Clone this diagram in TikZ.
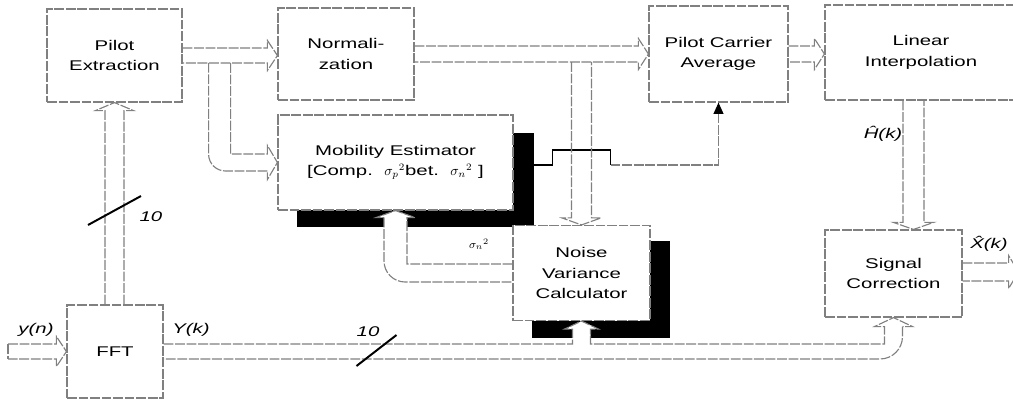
\documentclass[tikz,border=0pt]{standalone}
\usepackage{fontspec}
\setmainfont{Liberation Sans}[FakeStretch=1.45]
\usetikzlibrary{calc,arrows.meta,backgrounds}
\tikzset{
  ln/.style={draw=black!50, line width=0.8pt, dash pattern=on 7pt off 1.2pt},
  blk/.style={rectangle, ln, fill=white, inner sep=0pt, align=center, font=\fontsize{10}{14.6}\selectfont},
  lbl/.style={inner sep=0pt, font=\fontsize{10}{12}\selectfont\itshape},
  slashln/.style={draw=black, line width=1.4pt},
}
% horizontal fat arrow: start, tip, half gap
\newcommand\fatright[3]{\draw[ln] ($#1+(0,-#3)$) -- ($#2+(-10,-#3)$) -- ($#2+(-10,-#3-7.5)$) -- #2 -- ($#2+(-10,#3+7.5)$) -- ($#2+(-10,#3)$) -- ($#1+(0,#3)$);}
% vertical fat arrows: start, tip, half gap
\newcommand\fatdown[3]{\draw[ln] ($#1+(-#3,0)$) -- ($#2+(-#3,-7)$) -- ($#2+(-#3-9.5,-7)$) -- #2 -- ($#2+(#3+9.5,-7)$) -- ($#2+(#3,-7)$) -- ($#1+(#3,0)$);}
\newcommand\fatup[3]{\draw[ln] ($#1+(-#3,0)$) -- ($#2+(-#3,8)$) -- ($#2+(-#3-9.5,8)$) -- #2 -- ($#2+(#3+9.5,8)$) -- ($#2+(#3,8)$) -- ($#1+(#3,0)$);}
\begin{document}
\begin{tikzpicture}[x=0.025cm, y=-0.025cm]
\useasboundingbox (0,0) rectangle (1013,403);
\clip (0,0) rectangle (1013,403);

% blocks
\node[blk, minimum width=3.375cm, minimum height=2.325cm] (pe)  at (114.5,55.5) {Pilot\\Extraction};
\node[blk, minimum width=3.4cm,   minimum height=2.3cm]   (nm)  at (346,54)     {Normali-\\zation};
\node[blk, minimum width=3.475cm, minimum height=2.4cm]   (pca) at (718.5,54)   {Pilot Carrier\\Average};
\node[blk, minimum width=4.8cm,   minimum height=2.375cm] (li)  at (921,52.5)   {Linear\\Interpolation};
\node[blk, minimum width=5.875cm, minimum height=2.375cm] (me)  at (395.5,162.5) {Mobility Estimator\\{}[Comp.\ \ $\sigma_{p}{}^{2}$bet.\ \ $\sigma_{n}{}^{2}$\ ]};
\node[blk, minimum width=3.425cm, minimum height=2.375cm] (nvc) at (581.5,273)  {Noise\\Variance\\Calculator};
\node[blk, minimum width=3.425cm, minimum height=2.175cm] (sc)  at (893.5,273.5) {Signal\\Correction};
\node[blk, minimum width=2.4cm,   minimum height=2.325cm] (fft) at (115,351.5)  {FFT};

% shadows
\begin{scope}[on background layer]
\fill[black] ($(me.north west)+(20,19)$) rectangle ($(me.south east)+(20,16)$);
\fill[black] ($(nvc.north west)+(20,16)$) rectangle ($(nvc.south east)+(19,17)$);
\end{scope}

% main pilot path
\fatright{(pe.east)}{(pe.east -| nm.west)}{7.5}
\fatright{(nm.east)}{(nm.east -| pca.west)}{8}
\fatright{(pca.east)}{(pca.east -| li.west)}{8}

% branch from pilot extraction to mobility estimator
\coordinate (brA) at ($(pe.east)+(26,7.5)$);
\coordinate (brB) at ($(pe.east)+(48,7.5)$);
\coordinate (meT) at ($(me.west)+(-10,-8.5)$);
\coordinate (meB) at ($(me.west)+(-10,8.5)$);
\draw[ln] (brB) -- (brB |- meT) -- (meT) -- ($(me.west)+(-10,-17)$) -- (me.west) -- ($(me.west)+(-10,17)$) -- (meB);
\draw[ln, rounded corners=12] (meB) -- (brA |- meB) -- (brA);

% ME -> PCA control line
\coordinate (mo) at ($(me.east)+(20,2.5)$);
\draw[black, line width=1.2pt] (mo) -- ++(19,0) -- ++(0,-15) -- ++(58,0) -- ++(0,15) coordinate (mq);
\draw[ln, -{Triangle[length=8pt,width=7pt,black]}] (mq) -| (pca.south);

% branch from normalization to noise variance calculator
\coordinate (nmlow) at ($(nm.east)+(0,8)$);
\coordinate (nvtop) at (nvc.north |- nmlow);
\fatdown{(nvtop)}{(nvc.north)}{10}

% linear interpolation -> signal correction
\coordinate (liout) at ($(li.south)+(-7.5,0)$);
\coordinate (scin) at (liout |- sc.north);
\fatdown{(liout)}{(scin)}{10.5}
\node[lbl] (lhk) at (883,134) {\^{H}(k)};

% FFT -> pilot extraction
\coordinate (fftup) at (pe.south |- fft.north);
\fatup{(fftup)}{(pe.south)}{9.5}
\coordinate (s1) at (114.5,210.5);
\draw[slashln] ($(s1)+(-26.5,14.5)$) -- ($(s1)+(26.5,-14.5)$);
\node[lbl] (l10a) at (151,217) {10};

% input y(n)
\coordinate (yin) at (8,351.5);
\fatright{(yin)}{(fft.west)}{7.5}
\draw[ln] ($(yin)+(0,-7.5)$) -- ($(yin)+(0,7.5)$);
\node[lbl] (lyn) at (36,330) {y(n)};

% FFT output Y(k) to noise variance calculator and signal correction
\coordinate (ytop) at ($(fft.east)+(0,-7.5)$);
\coordinate (ybot) at ($(fft.east)+(0,7.5)$);
\coordinate (nvL) at ($(nvc.south)+(-9,8)$);
\coordinate (nvR) at ($(nvc.south)+(9,8)$);
\coordinate (scL) at ($(sc.south)+(-9,9)$);
\coordinate (scR) at ($(sc.south)+(9,9)$);
\fill[white] (nvL |- ytop) -- (nvL) -- ($(nvL)+(-8,0)$) -- (nvc.south) -- ($(nvR)+(8,0)$) -- (nvR) -- (nvR |- ytop) -- cycle;
\draw[ln] (ytop) -- (nvL |- ytop) -- (nvL) -- ($(nvL)+(-8,0)$) -- (nvc.south) -- ($(nvR)+(8,0)$) -- (nvR) -- (nvR |- ytop) -- (scL |- ytop) -- (scL) -- ($(scL)+(-10,0)$) -- (sc.south) -- ($(scR)+(10,0)$) -- (scR);
\draw[ln, rounded corners=16] (scR) -- (scR |- ybot) -- (ybot);
\node[lbl] (lyk) at (191,330) {Y(k)};
\coordinate (s2) at (376.5,350.5);
\draw[slashln] ($(s2)+(-20,15.5)$) -- ($(s2)+(20,-15.5)$);
\node[lbl] (l10b) at (368,332) {10};

% noise variance -> mobility estimator
\coordinate (nvwT) at ($(nvc.west)+(0,-9)$);
\coordinate (nvwB) at ($(nvc.west)+(0,9)$);
\coordinate (meL) at ($(me.south)+(-11.5,7)$);
\coordinate (meR) at ($(me.south)+(11.5,7)$);
\fill[white] (meL |- nvwB) -- (meL) -- ($(meL)+(-8,0)$) -- (me.south) -- ($(meR)+(8,0)$) -- (meR) -- (meR |- nvwT) -- cycle;
\draw[ln] (nvwT) -- (meR |- nvwT) -- (meR) -- ($(meR)+(8,0)$) -- (me.south) -- ($(meL)+(-8,0)$) -- (meL);
\draw[ln, rounded corners=15] (meL) -- (meL |- nvwB) -- (nvwB);
\node[inner sep=0pt, font=\footnotesize] (lsig) at (479,244) {$\sigma_{n}{}^{2}$};

% signal correction output
\coordinate (scout) at ($(sc.east)+(0,-1.5)$);
\coordinate (xout) at ($(scout)+(56,0)$);
\fatright{(scout)}{(xout)}{9}
\node[lbl] (lxk) at (989,244) {\^{X}(k)};
\end{tikzpicture}
\end{document}
